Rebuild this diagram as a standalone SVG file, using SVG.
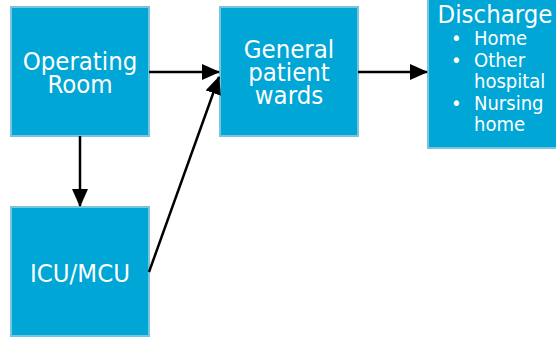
<svg xmlns="http://www.w3.org/2000/svg" width="556" height="345" viewBox="0 0 556 345">
<style>
.box{fill:#00a6d6;stroke:#7cc3de;stroke-width:2}
.t{fill:#ffffff;font-family:Tahoma,"DejaVu Sans Condensed","DejaVu Sans",sans-serif;font-size:25.5px;text-anchor:middle}
.s{fill:#ffffff;font-family:Tahoma,"DejaVu Sans Condensed","DejaVu Sans",sans-serif;font-size:20px}
.c{stroke:#000;stroke-width:2.5;fill:none;marker-end:url(#ah)}
</style>
<defs>
<marker id="ah" markerWidth="18" markerHeight="16" refX="17" refY="8" orient="auto" markerUnits="userSpaceOnUse">
<path d="M0,0 L18,8 L0,16 Z" fill="#000"/>
</marker>
</defs>
<rect width="556" height="345" fill="#ffffff"/>
<g id="operating-room">
<rect class="box" x="11" y="7" width="138" height="129"/>
<text class="t" x="80" y="70">Operating</text>
<text class="t" x="80" y="93">Room</text>
</g>
<g id="icu">
<rect class="box" x="11" y="207" width="138" height="129"/>
<text class="t" x="80" y="282">ICU/MCU</text>
</g>
<g id="general">
<rect class="box" x="220" y="7" width="138" height="129"/>
<text class="t" x="289" y="58">General</text>
<text class="t" x="289" y="81">patient</text>
<text class="t" x="289" y="104">wards</text>
</g>
<g id="discharge">
<rect class="box" x="428" y="-10" width="140" height="158"/>
<text class="t" x="495" y="23">Discharge</text>
<text class="s" x="451" y="45">•</text><text class="s" x="474" y="45">Home</text>
<text class="s" x="451" y="67">•</text><text class="s" x="474" y="67">Other</text>
<text class="s" x="474" y="88">hospital</text>
<text class="s" x="451" y="110">•</text><text class="s" x="474" y="110">Nursing</text>
<text class="s" x="474" y="131">home</text>
</g>
<g id="connectors">
<line class="c" x1="149" y1="72" x2="219" y2="72"/>
<line class="c" x1="80" y1="136" x2="80" y2="206"/>
<line class="c" x1="149" y1="272" x2="219" y2="77"/>
<line class="c" x1="358" y1="72" x2="427" y2="72"/>
</g>
</svg>
